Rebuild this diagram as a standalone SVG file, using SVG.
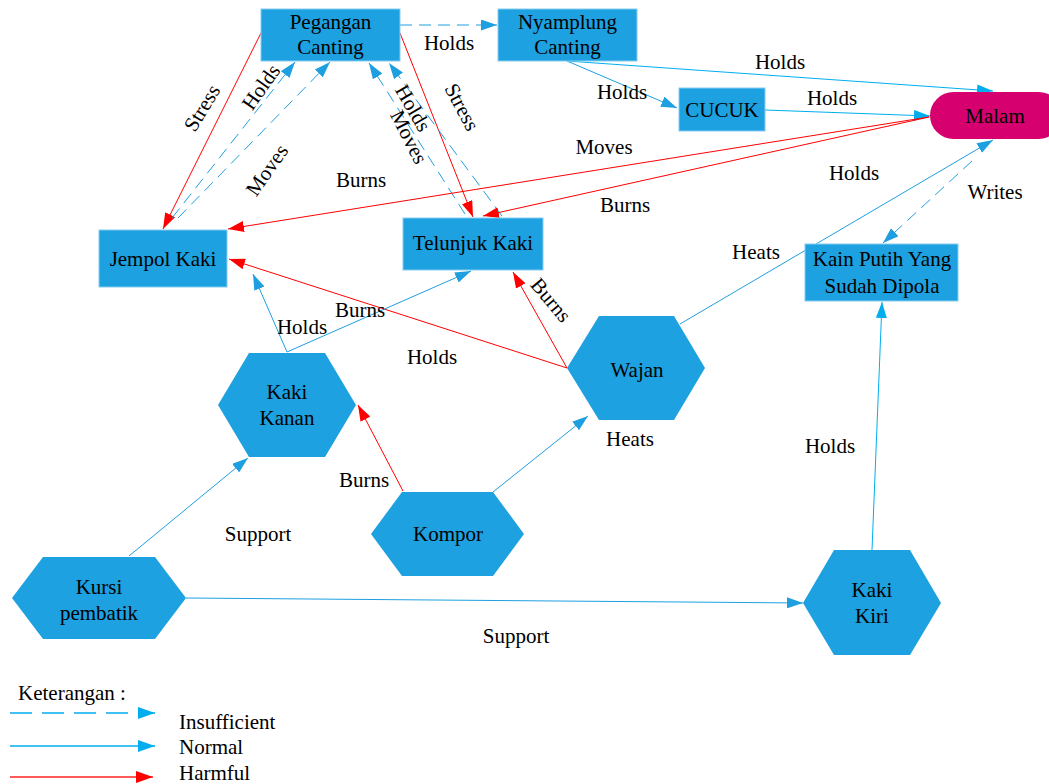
<svg xmlns="http://www.w3.org/2000/svg" width="1049" height="784" viewBox="0 0 1049 784" font-family="Liberation Serif, DejaVu Serif, serif" font-size="21">
  <style>
    text { font-family: "Liberation Serif", "DejaVu Serif", serif; font-size: 21px; fill: #000; }
    .c { text-anchor: middle; }
    .box { fill: #1da1e0; stroke: #86cdf2; stroke-width: 1; }
    .hex { fill: #1da1e0; stroke: none; }
    .pill { fill: #d6006f; stroke: none; }
    .ln { fill: none; stroke-width: 1; }
    .blue { stroke: #1e9fdf; }
    .cyan { stroke: #00aeef; }
    .red { stroke: #ff0000; }
    .dash { stroke-dasharray: 12 7; }
  </style>
  <defs>
    <marker id="arrow-blue" markerWidth="16" markerHeight="11" refX="16" refY="5.5" orient="auto" markerUnits="userSpaceOnUse">
      <path d="M0,0 L16,5.5 L0,11 z" fill="#1e9fdf"/>
    </marker>
    <marker id="arrow-cyan" markerWidth="16" markerHeight="11" refX="16" refY="5.5" orient="auto" markerUnits="userSpaceOnUse">
      <path d="M0,0 L16,5.5 L0,11 z" fill="#00aeef"/>
    </marker>
    <marker id="arrow-red" markerWidth="16" markerHeight="11" refX="16" refY="5.5" orient="auto" markerUnits="userSpaceOnUse">
      <path d="M0,0 L16,5.5 L0,11 z" fill="#ff0000"/>
    </marker>
    <marker id="legend-cyan" markerWidth="17" markerHeight="12" refX="17" refY="6" orient="auto" markerUnits="userSpaceOnUse">
      <path d="M0,0 L17,6 L0,12 z" fill="#00aeef"/>
    </marker>
    <marker id="legend-red" markerWidth="17" markerHeight="12" refX="17" refY="6" orient="auto" markerUnits="userSpaceOnUse">
      <path d="M0,0 L17,6 L0,12 z" fill="#ff0000"/>
    </marker>
  </defs>

  <g id="connectors">
    <!-- Pegangan Canting -> Nyamplung Canting -->
    <line class="ln blue dash" x1="400" y1="25" x2="497" y2="25" marker-end="url(#arrow-blue)"/>
    <!-- Pegangan Canting -> Jempol Kaki (Stress) -->
    <line class="ln red" x1="261" y1="33" x2="163" y2="229" marker-end="url(#arrow-red)"/>
    <!-- Jempol Kaki -> Pegangan Canting (Holds / Moves) -->
    <line class="ln blue dash" x1="172" y1="218" x2="295" y2="62" marker-end="url(#arrow-blue)"/>
    <line class="ln blue dash" x1="178" y1="218" x2="330" y2="62" marker-end="url(#arrow-blue)"/>
    <!-- Pegangan Canting -> Telunjuk Kaki (Stress) -->
    <line class="ln red" x1="400" y1="33" x2="473" y2="217" marker-end="url(#arrow-red)"/>
    <!-- Telunjuk Kaki -> Pegangan Canting (Holds / Moves) -->
    <line class="ln blue dash" x1="465" y1="214" x2="369" y2="63" marker-end="url(#arrow-blue)"/>
    <line class="ln blue dash" x1="502" y1="216" x2="389" y2="63" marker-end="url(#arrow-blue)"/>
    <!-- Nyamplung Canting -> Malam / CUCUK -->
    <line class="ln cyan" x1="567" y1="61" x2="993" y2="91" marker-end="url(#arrow-cyan)"/>
    <line class="ln blue" x1="567" y1="61" x2="677" y2="108" marker-end="url(#arrow-blue)"/>
    <!-- CUCUK -> Malam -->
    <line class="ln cyan" x1="765" y1="110" x2="930" y2="116" marker-end="url(#arrow-cyan)"/>
    <!-- Malam -> Jempol Kaki / Telunjuk Kaki -->
    <line class="ln red" x1="929" y1="117" x2="228" y2="229" marker-end="url(#arrow-red)"/>
    <line class="ln red" x1="929" y1="117" x2="483" y2="216" marker-end="url(#arrow-red)"/>
    <!-- Wajan -> Malam -->
    <line class="ln blue" x1="680" y1="324" x2="993" y2="140" marker-end="url(#arrow-blue)"/>
    <!-- Malam -> Kain Putih (Writes) -->
    <line class="ln blue dash" x1="972" y1="161" x2="883" y2="243" marker-end="url(#arrow-blue)"/>
    <!-- Kaki Kiri -> Kain Putih -->
    <line class="ln cyan" x1="872" y1="550" x2="882" y2="302" marker-end="url(#arrow-cyan)"/>
    <!-- Kursi pembatik -> Kaki Kiri / Kaki Kanan -->
    <line class="ln blue" x1="186" y1="598" x2="803" y2="603" stroke-width="1.3" marker-end="url(#arrow-blue)"/>
    <line class="ln blue" x1="129" y1="556" x2="248" y2="458" marker-end="url(#arrow-blue)"/>
    <!-- Kompor -> Kaki Kanan / Wajan -->
    <line class="ln red" x1="403" y1="491" x2="358" y2="405" marker-end="url(#arrow-red)"/>
    <line class="ln blue" x1="493" y1="492" x2="588" y2="416" marker-end="url(#arrow-blue)"/>
    <!-- Wajan -> Telunjuk Kaki / Jempol Kaki -->
    <line class="ln red" x1="567" y1="368" x2="513" y2="272" marker-end="url(#arrow-red)"/>
    <line class="ln red" x1="567" y1="368" x2="229" y2="259" marker-end="url(#arrow-red)"/>
    <!-- Kaki Kanan -> Jempol Kaki / Telunjuk Kaki -->
    <line class="ln blue" x1="287" y1="352" x2="253" y2="274" marker-end="url(#arrow-blue)"/>
    <line class="ln blue" x1="287" y1="352" x2="471" y2="271" marker-end="url(#arrow-blue)"/>

    <g id="connector-labels">
      <text class="c" x="449" y="50">Holds</text>
      <text class="c" transform="translate(202,108) rotate(-59)" x="0" y="7">Stress</text>
      <text class="c" transform="translate(261,87) rotate(-55)" x="0" y="7">Holds</text>
      <text class="c" transform="translate(267,170) rotate(-55)" x="0" y="7">Moves</text>
      <text class="c" transform="translate(413,108) rotate(60)" x="0" y="7">Holds</text>
      <text class="c" transform="translate(409,137) rotate(63)" x="0" y="7">Moves</text>
      <text class="c" transform="translate(462,107) rotate(62)" x="0" y="7">Stress</text>
      <text class="c" transform="translate(551,300) rotate(50)" x="0" y="7">Burns</text>
      <text class="c" x="780" y="69">Holds</text>
      <text class="c" x="622" y="99">Holds</text>
      <text class="c" x="832" y="105">Holds</text>
      <text class="c" x="604" y="154">Moves</text>
      <text class="c" x="361" y="187">Burns</text>
      <text class="c" x="625" y="212">Burns</text>
      <text class="c" x="854" y="180">Holds</text>
      <text class="c" x="995" y="199">Writes</text>
      <text class="c" x="756" y="259">Heats</text>
      <text class="c" x="360" y="317">Burns</text>
      <text class="c" x="302" y="334">Holds</text>
      <text class="c" x="432" y="364">Holds</text>
      <text class="c" x="630" y="446">Heats</text>
      <text class="c" x="830" y="453">Holds</text>
      <text class="c" x="364" y="487">Burns</text>
      <text class="c" x="258" y="541">Support</text>
      <text class="c" x="516" y="643">Support</text>
    </g>
  </g>

  <g id="pegangan-canting">
    <rect class="box" x="261" y="9" width="139" height="52"/>
    <text class="c" x="330.5" y="29">Pegangan</text>
    <text class="c" x="330.5" y="54">Canting</text>
  </g>
  <g id="nyamplung-canting">
    <rect class="box" x="498" y="9" width="139" height="52"/>
    <text class="c" x="567.5" y="29">Nyamplung</text>
    <text class="c" x="567.5" y="54">Canting</text>
  </g>
  <g id="cucuk">
    <rect class="box" x="679" y="88" width="86" height="43"/>
    <text class="c" x="722" y="117">CUCUK</text>
  </g>
  <g id="malam">
    <rect class="pill" x="930" y="92" width="132" height="47" rx="23.5" ry="23.5"/>
    <text class="c" x="995" y="123">Malam</text>
  </g>
  <g id="jempol-kaki">
    <rect class="box" x="99" y="230" width="128" height="57"/>
    <text class="c" x="163" y="266">Jempol Kaki</text>
  </g>
  <g id="telunjuk-kaki">
    <rect class="box" x="403" y="218" width="140" height="52"/>
    <text class="c" x="473" y="250">Telunjuk Kaki</text>
  </g>
  <g id="kain-putih">
    <rect class="box" x="805" y="244" width="153" height="57"/>
    <text class="c" x="882" y="266">Kain Putih Yang</text>
    <text class="c" x="882" y="293">Sudah Dipola</text>
  </g>
  <g id="kaki-kanan">
    <polygon class="hex" points="218,405 249,353 325,353 356,405 325,457 249,457"/>
    <text class="c" x="287" y="399">Kaki</text>
    <text class="c" x="287" y="425">Kanan</text>
  </g>
  <g id="wajan">
    <polygon class="hex" points="567,368 599,316 674,316 705,368 674,420 599,420"/>
    <text class="c" x="637" y="377">Wajan</text>
  </g>
  <g id="kompor">
    <polygon class="hex" points="371,534 402,492 493,492 524,534 493,576 402,576"/>
    <text class="c" x="448" y="541">Kompor</text>
  </g>
  <g id="kursi-pembatik">
    <polygon class="hex" points="12,598 43,557 155,557 186,598 155,639 43,639"/>
    <text class="c" x="99" y="594">Kursi</text>
    <text class="c" x="99" y="620">pembatik</text>
  </g>
  <g id="kaki-kiri">
    <polygon class="hex" points="803,603 834,550 910,550 941,603 910,655 834,655"/>
    <text class="c" x="872" y="597">Kaki</text>
    <text class="c" x="872" y="623">Kiri</text>
  </g>

  <g id="legend">
    <text x="18" y="700">Keterangan :</text>
    <line x1="10" y1="713" x2="155" y2="713" stroke="#00aeef" stroke-width="1.5" stroke-dasharray="22 10" marker-end="url(#legend-cyan)"/>
    <line x1="10" y1="746" x2="155" y2="746" stroke="#00aeef" stroke-width="1.5" marker-end="url(#legend-cyan)"/>
    <line x1="10" y1="777" x2="153" y2="777" stroke="#ff5a5a" stroke-width="2" marker-end="url(#legend-red)"/>
    <text x="179" y="729">Insufficient</text>
    <text x="179" y="754">Normal</text>
    <text x="179" y="780">Harmful</text>
  </g>
</svg>
